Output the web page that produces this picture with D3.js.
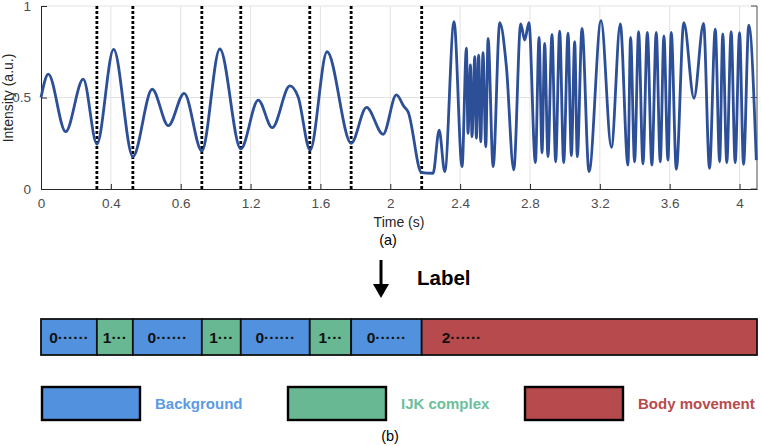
<!DOCTYPE html>
<html>
<head>
<meta charset="utf-8">
<script src="https://cdn.jsdelivr.net/npm/d3@7"></script>
<style>
  body { margin: 0; background: #fff; }
  svg { display: block; font-family: "Liberation Sans", Arial, sans-serif; }
  .axis path, .axis line { stroke: #262626; }
  .axis text { fill: #4d4d4d; font-size: 13.5px; }
</style>
</head>
<body>
<svg id="chart" width="761" height="446"></svg>
<script>
// signal samples (time in s, intensity a.u.)
var sigTime = [0.000, 0.042, 0.141, 0.242, 0.320, 0.416, 0.526, 0.637, 0.729, 0.820,
  0.921, 1.024, 1.144, 1.244, 1.324, 1.425, 1.472, 1.541, 1.638, 1.776,
  1.864, 1.959, 2.035, 2.079, 2.102, 2.179, 2.245, 2.280, 2.312, 2.365,
  2.411, 2.436, 2.445, 2.459, 2.468, 2.484, 2.493, 2.506, 2.518, 2.531,
  2.547, 2.560, 2.589, 2.627, 2.665, 2.707, 2.747, 2.770, 2.794, 2.831,
  2.852, 2.869, 2.884, 2.903, 2.926, 2.947, 2.970, 2.993, 3.018, 3.037,
  3.056, 3.071, 3.098, 3.138, 3.207, 3.266, 3.317, 3.361, 3.376, 3.399,
  3.422, 3.447, 3.472, 3.498, 3.523, 3.546, 3.567, 3.590, 3.609, 3.638,
  3.681, 3.739, 3.794, 3.828, 3.861, 3.886, 3.904, 3.927, 3.952, 3.975,
  4.000, 4.023, 4.053, 4.096];
var sigValue = [0.500, 0.628, 0.313, 0.600, 0.246, 0.763, 0.177, 0.545, 0.346, 0.523,
  0.208, 0.765, 0.219, 0.486, 0.335, 0.563, 0.504, 0.213, 0.750, 0.250,
  0.446, 0.299, 0.514, 0.450, 0.422, 0.089, 0.086, 0.322, 0.095, 0.914,
  0.122, 0.769, 0.304, 0.678, 0.286, 0.723, 0.277, 0.732, 0.258, 0.745,
  0.231, 0.823, 0.122, 0.909, 0.668, 0.104, 0.902, 0.814, 0.909, 0.144,
  0.829, 0.198, 0.796, 0.177, 0.845, 0.149, 0.863, 0.144, 0.851, 0.182,
  0.805, 0.177, 0.878, 0.095, 0.920, 0.228, 0.902, 0.131, 0.829, 0.149,
  0.860, 0.137, 0.856, 0.131, 0.856, 0.149, 0.836, 0.158, 0.856, 0.108,
  0.909, 0.496, 0.905, 0.113, 0.873, 0.149, 0.847, 0.144, 0.860, 0.144,
  0.854, 0.135, 0.896, 0.158];

// segment boundaries (s) and their class labels
var segEdges = [0, 0.320, 0.526, 0.921, 1.144, 1.539, 1.776, 2.180, 4.1];
var segClass = [0, 1, 0, 1, 0, 1, 0, 2];
var segText = ['0······', '1···', '0······', '1···', '0······', '1···', '0······', '2······'];

var xTicks = [0, 0.4, 0.8, 1.2, 1.6, 2.0, 2.4, 2.8, 3.2, 3.6, 4.0];
var xTickLabels = ['0', '0.4', '0.6', '1.2', '1.6', '2', '2.4', '2.8', '3.2', '3.6', '4'];
var yTicks = [0, 0.5, 1];
var yTickLabels = ['0', '0.5', '1'];

var classNames = ['Background', 'IJK complex', 'Body movement'];
var classColors = ['#5191dd', '#68b893', '#b74a4c'];
var classTextColors = ['#5b9be2', '#6cc09b', '#b84a4c'];

var svg = d3.select('#chart');

var x = d3.scaleLinear().domain([0, 4.1]).range([41, 757]);
var y = d3.scaleLinear().domain([0, 1]).range([189, 6]);

// grid
var grid = svg.append('g');
grid.selectAll('.vgrid').data(xTicks.slice(1)).enter().append('line')
  .attr('x1', function (d) { return x(d); }).attr('x2', function (d) { return x(d); })
  .attr('y1', y(0)).attr('y2', y(1))
  .attr('stroke', '#e3e3e3').attr('stroke-width', 1);
grid.selectAll('.hgrid').data(yTicks.slice(1)).enter().append('line')
  .attr('x1', x(0)).attr('x2', x(4.1))
  .attr('y1', function (d) { return y(d); }).attr('y2', function (d) { return y(d); })
  .attr('stroke', '#e3e3e3').attr('stroke-width', 1);

// right border with inward ticks
svg.append('line').attr('x1', x(4.1)).attr('x2', x(4.1)).attr('y1', y(0)).attr('y2', y(1))
  .attr('stroke', '#4d4d4d').attr('stroke-width', 1);
svg.selectAll('.rtick').data(yTicks).enter().append('line')
  .attr('x1', x(4.1) - 6).attr('x2', x(4.1))
  .attr('y1', function (d) { return y(d); }).attr('y2', function (d) { return y(d); })
  .attr('stroke', '#4d4d4d');

// axes (ticks inside, matlab style)
var xAxis = d3.axisBottom(x).tickValues(xTicks)
  .tickFormat(function (d, i) { return xTickLabels[i]; })
  .tickSizeInner(-5).tickSizeOuter(0).tickPadding(9);
svg.append('g').attr('class', 'axis').attr('transform', 'translate(0,' + y(0) + ')').call(xAxis);

var yAxis = d3.axisLeft(y).tickValues(yTicks)
  .tickFormat(function (d, i) { return yTickLabels[i]; })
  .tickSizeInner(-6).tickSizeOuter(0).tickPadding(10);
svg.append('g').attr('class', 'axis').attr('transform', 'translate(' + x(0) + ',0)').call(yAxis);

// segment markers
svg.selectAll('.marker').data(segEdges.slice(1, -1)).enter().append('line')
  .attr('x1', function (d) { return x(d); }).attr('x2', function (d) { return x(d); })
  .attr('y1', y(0)).attr('y2', y(1))
  .attr('stroke', '#000').attr('stroke-width', 2.8).attr('stroke-dasharray', '3,2');

// signal
var pts = sigTime.map(function (t, i) { return [t, sigValue[i]]; });
var line = d3.line()
  .x(function (d) { return x(d[0]); })
  .y(function (d) { return y(d[1]); })
  .curve(d3.curveMonotoneX);
svg.append('path').datum(pts).attr('d', line)
  .attr('fill', 'none').attr('stroke', '#2c4f97').attr('stroke-width', 2.8)
  .attr('stroke-linejoin', 'round');

// axis labels
svg.append('text').attr('x', 399).attr('y', 227).attr('text-anchor', 'middle')
  .attr('font-size', 14).attr('fill', '#262626').text('Time (s)');
svg.append('text').attr('transform', 'translate(13,98) rotate(-90)').attr('text-anchor', 'middle')
  .attr('font-size', 14).attr('fill', '#262626').text('Intensity (a.u.)');
svg.append('text').attr('x', 388).attr('y', 245).attr('text-anchor', 'middle')
  .attr('font-size', 14.5).attr('fill', '#000').text('(a)');

// arrow + Label
svg.append('line').attr('x1', 381).attr('x2', 381).attr('y1', 260).attr('y2', 286)
  .attr('stroke', '#000').attr('stroke-width', 3);
svg.append('path').attr('d', 'M373,284 L389,284 L381,298 Z').attr('fill', '#000');
svg.append('text').attr('x', 417).attr('y', 285).attr('font-size', 20.5).attr('font-weight', 'bold')
  .attr('fill', '#000').text('Label');

// label bar
var barTop = 319, barH = 36;
var segs = segClass.map(function (c, i) { return { c: c, t0: segEdges[i], t1: segEdges[i + 1], label: segText[i] }; });
var bar = svg.append('g');
bar.selectAll('rect').data(segs).enter().append('rect')
  .attr('x', function (d) { return x(d.t0); })
  .attr('width', function (d) { return x(d.t1) - x(d.t0); })
  .attr('y', barTop).attr('height', barH)
  .attr('fill', function (d) { return classColors[d.c]; })
  .attr('stroke', '#111').attr('stroke-width', 1.8);
bar.selectAll('text').data(segs).enter().append('text')
  .attr('x', function (d) { return d.c === 2 ? x(d.t0) + 20 : (x(d.t0) + x(d.t1)) / 2; })
  .attr('y', barTop + barH / 2 + 6)
  .attr('text-anchor', function (d) { return d.c === 2 ? 'start' : 'middle'; })
  .attr('font-size', 15.5).attr('font-weight', 'bold').attr('fill', '#111')
  .text(function (d) { return d.label; });

// legend
var legX = [42, 288, 525];
var leg = svg.selectAll('.leg').data(classNames).enter().append('g')
  .attr('transform', function (d, i) { return 'translate(' + legX[i] + ',387)'; });
leg.append('rect').attr('width', 98).attr('height', 33)
  .attr('fill', function (d, i) { return classColors[i]; })
  .attr('stroke', '#000').attr('stroke-width', 2.4);
leg.append('text').attr('x', 113).attr('y', 22)
  .attr('font-size', 15).attr('font-weight', 'bold')
  .attr('fill', function (d, i) { return classTextColors[i]; })
  .text(function (d) { return d; });

svg.append('text').attr('x', 390).attr('y', 441).attr('text-anchor', 'middle')
  .attr('font-size', 14.5).attr('fill', '#000').text('(b)');
</script>
</body>
</html>
